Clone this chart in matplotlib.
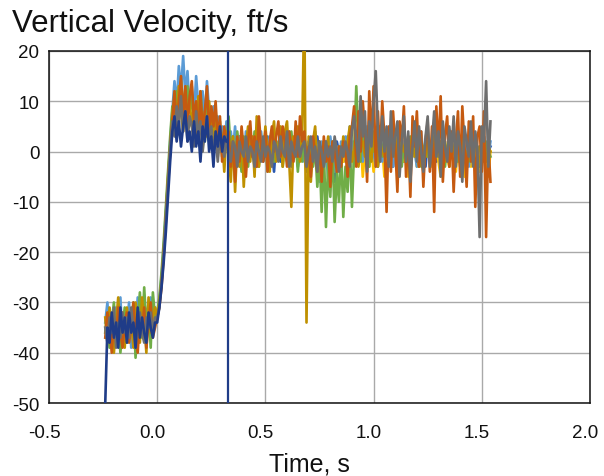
import numpy as np
import matplotlib
matplotlib.use('Agg')
import matplotlib.pyplot as plt
import matplotlib.transforms as mtransforms

# drop test accelerometer runs, vertical velocity sampled every 10 ms
t_start = -0.24
t_step = 0.01

navy_v = [-50, -35, -38, -32, -37, -34, -39, -31, -36, -33,
          -38, -32, -36, -34, -39, -31, -37, -33, -36, -38,
          -32, -35, -37, -34, -34, -31, -27, -22, -16, -9,
          -2, 4, 7, 2, 6, 1, 5, 8, 2, 4,
          0, 6, 1, 4, -2, 5, 2, 7, 0, 3,
          -3, 4, 1, 5, 0, 3, 2, -1, 1, -2,
          2, -1, 3, -3, 1, 0, -2, 2, -1, 1,
          -3, 2, 0, -2, 1, 3, -1, 0, -4, 2,
          0, -2, 1, 3, -1, 0, -3, 2, 1, -2,
          0, 3, -1, -4, 2, 0, 1, -2, 3, -1,
          -5, 0, 2, -3, 1, -1, -6, 2, 0, -3,
          1, -2, 3, 0, -1, 2, -2, 1, 0, 3,
          1, -2, 4, 0, -1, 3, -3, 2, 0, -2,
          4, -1, 1, -3, 2, 0, -1, 3, -2, 1,
          0, -4, 2, -1, 3, 0, -2, 1, -3, 2,
          0, -1, 4, -2, 1, 0, -3, 2, -1, 1,
          0, -2, 3, -1, 0, 2, -3, 1, -1, 0,
          2, -2, 1, 0, -1, 3, -2, 0, 1]

ltblue_v = [-34, -30, -37, -33, -39, -31, -36, -29, -38, -33,
            -35, -30, -39, -32, -36, -29, -37, -34, -31, -38,
            -33, -29, -36, -31, -33, -30, -25, -19, -12, -6,
            2, 8, 14, 9, 17, 12, 19, 11, 16, 8,
            13, 7, 15, 9, 5, 12, 6, 14, 8, 4,
            9, 3, 7, 1, 5, -1, 6, 2, 4, 0,
            5, -2, 3, 1, -3, 4, 0, 2, -1, 3,
            1, -2, 4, 0, 2, -1, 3, -2, 1, 0,
            2, -1, 3, 0, -2, 4, 1, -1, 2, -3,
            1, 3, -2, 0, 2, -4, 1, 4, -1, -6,
            2, -3, 0, -5, 3, -1, -4, 1, -2, 2,
            0, 3, -2, 5, 1, -1, 3, 0, 4, -2,
            2, 5, -1, 3, 0, -3, 4, 1, -2, 3,
            -1, 2, 0, -3, 3, 1, -2, 0, 2, -1,
            3, -2, 1, 0, -3, 2, 4, -1, 0, 2,
            -2, 1, 3, -1, 0, 2, -3, 1, 0, -1,
            2, 0, -2, 3, 1, -1, 0, 2, -3, 1,
            0, 2, -1, 1, -2, 3, 0, -1, 2]

green_v = [-36, -32, -39, -34, -30, -37, -33, -40, -35, -31,
           -38, -33, -36, -30, -41, -34, -28, -37, -27, -35,
           -30, -39, -28, -33, -32, -29, -24, -18, -11, -4,
           3, 9, 5, 12, 7, 14, 10, 6, 13, 8,
           11, 5, 9, 3, 12, 6, 2, 10, 4, 7,
           1, 8, 3, 6, -1, 4, 2, 7, 0, 3,
           -2, 4, 0, -4, 3, 1, -3, 2, -1, 4,
           0, -3, 2, -1, 3, -4, 1, 0, -2, 2,
           -1, 3, -3, 1, 0, -2, 4, -1, 2, -4,
           1, -2, 3, 0, -5, 2, -3, 1, -7, 0,
           -12, 1, -15, -2, -9, 2, -14, -4, -10, 1,
           -13, -3, -8, 2, -11, 0, 13, 3, -2, 5,
           1, 4, -3, 6, 0, 3, -2, 5, -1, 2,
           3, -2, 1, 4, -1, 0, 2, -3, 1, 0,
           -2, 3, 0, 1, -1, 2, -3, 0, 2, -1,
           1, -2, 3, 0, -1, 2, 0, -3, 1, 2,
           -1, 0, 2, -2, 1, 3, -1, 0, -2, 1,
           0, 2, -1, 1, 0, -2, 2, 0, -1]

gold_v = [-33, -38, -31, -36, -40, -34, -29, -37, -32, -39,
          -31, -36, -33, -39, -30, -35, -38, -29, -34, -40,
          -29, -36, -33, -31, -33, -30, -26, -20, -13, -5,
          1, 7, 11, 5, 13, 8, 4, 12, 7, 10,
          5, 9, 3, 11, 6, 1, 8, 3, 10, 5,
          2, 7, -1, 5, 3, -4, 4, 0, -6, 3,
          -8, 2, -3, 4, -7, 1, 5, -2, 3, -5,
          7, -3, 2, -1, 5, 0, -4, 3, 6, -2,
          1, 5, -3, 4, 6, -2, -11, 3, 0, 5,
          -2, 4, 30, -34, 3, -6, 2, 5, -3, 1,
          -4, 2, -1, 3, -5, 0, 2, -3, 1, -2,
          3, -1, 2, 5, -2, 0, 4, -3, 1, 2,
          -1, 3, 0, -2, 4, 1, -3, 2, 0, -1,
          2, -3, 1, 0, 3, -1, -4, 2, 0, 1,
          -2, 1, 3, -1, 0, -3, 2, 0, -1, 2,
          0, -2, 1, 3, -1, 0, 2, -2, 1, -3,
          2, 0, -1, 1, -3, 2, 0, -2, 1, 0,
          -1, 2, 0, -3, 1, 0, -2, 1, 0]

orange_v = [-37, -32, -35, -40, -33, -38, -31, -36, -39, -34,
            -32, -38, -35, -30, -37, -40, -33, -36, -31, -39,
            -34, -30, -37, -35, -33, -31, -27, -21, -14, -7,
            0, 6, 12, 4, 10, 15, 7, 13, 5, 11,
            14, 6, 10, 2, 12, 4, 8, 13, 3, 9,
            5, 10, 2, 7, -2, 5, 1, 4, -3, 2,
            -6, 3, -2, 5, 0, -5, 2, 6, -1, 3,
            -3, 7, 1, -2, 4, -4, 2, 5, 0, 3,
            6, -1, 5, 2, -3, 4, 1, -2, 6, -1,
            7, 2, 4, -3, 1, -5, 3, 0, -4, 2,
            -6, 3, -2, 1, -7, 2, 0, -4, 1, -3,
            2, 0, -5, 3, 5, 9, -3, 8, 0, 10,
            4, -6, 12, 2, 13, -3, 8, -1, 10, 3,
            -12, 5, -4, 8, 1, -8, 6, 2, 9, -5,
            3, -9, 7, 1, 8, -3, 4, -7, 2, 6,
            -4, 5, -12, 9, 0, 11, -6, 3, 7, -3,
            4, -8, 2, 8, -5, 9, 1, -7, 6, -2,
            7, -11, 3, 5, -4, 8, -17, 2, -6]

gray_v = [-35, -38, -33, -36, -31, -39, -34, -37, -32, -36,
          -33, -37, -31, -35, -39, -34, -32, -36, -38, -33,
          -35, -32, -36, -33, -33, -31, -26, -20, -13, -6,
          1, 6, 3, 9, 5, 11, 4, 8, 2, 7,
          5, 1, 8, 3, 6, 0, 4, 7, 2, 5,
          0, 3, -2, 4, 1, -1, 3, 0, -2, 2,
          1, -3, 2, 0, -1, 3, -2, 1, 0, -3,
          2, 0, -2, 3, -1, 1, 0, -3, 2, 1,
          -2, 3, 0, -1, 4, -3, 2, 0, -1, 3,
          -1, 1, 2, -3, 0, 3, -2, 1, -4, 2,
          0, -3, 2, -1, 1, -2, 3, 0, -4, 1,
          -1, 2, 0, -3, 4, 7, 2, -2, 11, 3,
          8, -4, 6, 1, 10, 16, 4, -2, 7, 0,
          5, -3, 8, -1, 3, 6, -5, 2, 7, -2,
          4, -6, 1, 6, -2, 5, 0, -4, 3, 7,
          -3, 2, 8, -1, 4, -5, 6, 1, -2, 5,
          0, 7, -3, 4, 1, -6, 5, 2, -1, 6,
          -3, 4, 0, -17, 5, 2, 14, -3, 6]

# the short run only logged the tail of the drop
yellow_start = 0.86
yellow_v = [-2, 1, -4, 0, 2, -3, 1, -1, 3, -5,
            0, 2, -3, 1, -4, 0, 3, -2, 1, -5,
            2, 0, -3, 4, -1, -4, 1, 3, -2, 0,
            -5, 2, -1, 1, -3, 3, 0, -4, 2, -1,
            1, -3, 4, 0, -2, -5, 1, 2, -1, -3,
            3, 0, -4, 1, -2, 2, -5, 0, 1, -3,
            2, -1, 0, -4, 3, 1, -2, -5, 0]

impact_time = 0.325

x_ticks = [-0.5, 0.0, 0.5, 1.0, 1.5, 2.0]
x_ticklabels = ['-0.5', '0.0', '0.5', '1.0', '1.5', '2.0']
y_ticks = [-50, -40, -30, -20, -10, 0, 10, 20]

plt.rcParams['font.family'] = ['Liberation Sans', 'DejaVu Sans']
plt.rcParams['axes.unicode_minus'] = False

fig = plt.figure(figsize=(6.04, 4.77), dpi=100)
ax = fig.add_axes([0.0811, 0.153, 0.8957, 0.738])


def times(start, values):
    return start + t_step * np.arange(len(values))


lw = 1.9
# draw order: later runs sit on top
runs = [(yellow_start, yellow_v, '#ffc000'),
        (t_start, ltblue_v, '#5b9bd5'),
        (t_start, green_v, '#70ad47'),
        (t_start, gold_v, '#bf9000'),
        (t_start, orange_v, '#c55a11'),
        (t_start, gray_v, '#6e6e6e')]
for start, vals, col in runs:
    ax.plot(times(start, vals), vals, color=col, lw=lw, zorder=3)

# navy run: before impact it covers the others, afterwards it sits beneath
navy_t = times(t_start, navy_v)
navy_arr = np.array(navy_v)
n_pre = int(np.searchsorted(navy_t, impact_time))
ax.plot(navy_t[:n_pre], navy_arr[:n_pre], color='#1f3c88', lw=lw, zorder=5)
ax.plot(navy_t[n_pre - 1:], navy_arr[n_pre - 1:], color='#2a58b0', lw=lw,
        zorder=2.5)

ax.axvline(impact_time, color='#1f3c88', lw=1.6, zorder=6)

ax.set_xlim(-0.5, 2.0)
ax.set_ylim(-50, 20)
ax.set_xticks(x_ticks)
ax.set_xticklabels(x_ticklabels)
ax.set_yticks(y_ticks)
ax.grid(True, color='#a9a9a9', lw=1.0, zorder=0)
ax.set_axisbelow(True)

for side in ['left', 'right', 'bottom', 'top']:
    ax.spines[side].set_color('#111111')
    ax.spines[side].set_linewidth(1.1)

ax.tick_params(length=0, labelsize=13.5, colors='#111111')
ax.tick_params(axis='y', pad=7)
ax.tick_params(axis='x', pad=15)

# x labels sit a little left of their grid lines
shift = mtransforms.ScaledTranslation(-5 / 100, 0, fig.dpi_scale_trans)
for lab in ax.get_xticklabels():
    lab.set_transform(lab.get_transform() + shift)

fig.text(12 / 604, 1 - 32 / 477, 'Vertical Velocity, ft/s', fontsize=22.5,
         color='#111111', ha='left', va='baseline')
fig.text(309 / 604, 1 - 472 / 477, 'Time, s', fontsize=18,
         color='#111111', ha='center', va='baseline')

fig.savefig('out.png', dpi=100)
